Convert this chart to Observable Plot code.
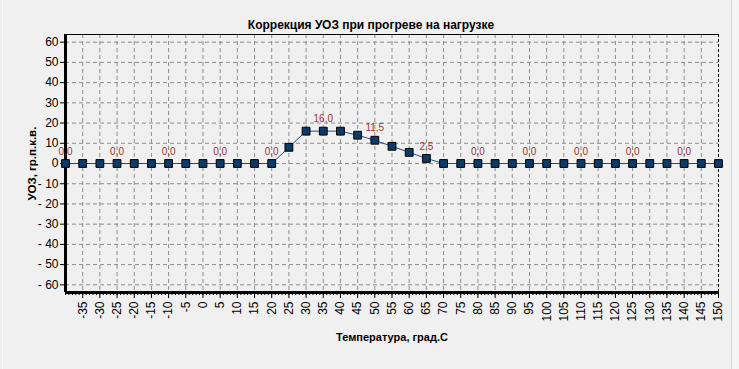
<!DOCTYPE html>
<html>
<head>
<meta charset="utf-8">
<script src="https://cdn.jsdelivr.net/npm/d3@7"></script>
<script src="https://cdn.jsdelivr.net/npm/@observablehq/plot@0.6"></script>
<style>
  html, body { margin: 0; padding: 0; background: #f0f0f0; }
  #wrap { position: relative; width: 739px; height: 369px; overflow: hidden; }
  #edgeL { position: absolute; left: 2px; top: 0; width: 1px; height: 369px; background: #ffffff; }
  #edgeR { position: absolute; left: 731px; top: 0; width: 1px; height: 369px; background: #d4d4d4; }
  #edgeR2 { position: absolute; left: 732px; top: 0; width: 7px; height: 369px; background: #f4f4f4; }
  svg { font-family: "Liberation Sans", Arial, sans-serif; }
</style>
</head>
<body>
<div id="wrap"><div id="edgeL"></div><div id="edgeR"></div><div id="edgeR2"></div></div>
<script>
const title = "Коррекция УОЗ при прогреве на нагрузке";
const xLabel = "Температура, град.С";
const yLabel = "УОЗ, гр.п.к.в.";
const temps = [-40,-35,-30,-25,-20,-15,-10,-5,0,5,10,15,20,25,30,35,40,45,50,55,60,65,70,75,80,85,90,95,100,105,110,115,120,125,130,135,140,145,150];
const uoz   = [0,0,0,0,0,0,0,0,0,0,0,0,0,8,16,16,16,14,11.5,8.5,5.5,2.5,0,0,0,0,0,0,0,0,0,0,0,0,0,0,0,0,0];
const xTicks = [-35,-30,-25,-20,-15,-10,-5,0,5,10,15,20,25,30,35,40,45,50,55,60,65,70,75,80,85,90,95,100,105,110,115,120,125,130,135,140,145,150];
const yTicks = [-60,-50,-40,-30,-20,-10,0,10,20,30,40,50,60];
const xMinor = d3.range(-40, 151, 1);

const data = temps.map((t, i) => ({t, v: uoz[i], i}));
const labeled = data.filter(d => d.i % 3 === 0);
const fmtVal = v => v.toFixed(1).replace(".", ",");
const fmtY = d => d < 0 ? "- " + Math.abs(d) : String(d);

const chart = Plot.plot({
  width: 739,
  height: 369,
  marginLeft: 65,
  marginRight: 21,
  marginTop: 34,
  marginBottom: 77,
  style: { background: "transparent", fontFamily: "Liberation Sans, Arial, sans-serif", overflow: "visible" },
  x: { type: "linear", domain: [-40, 150], axis: null },
  y: { type: "linear", domain: [-63.8, 63.8], axis: null },
  marks: [
    // grid
    Plot.ruleX(xTicks.filter(d => d < 150), { stroke: "#8c8c8c", strokeDasharray: "4,3", strokeWidth: 1 }),
    Plot.ruleY(yTicks, { stroke: "#8c8c8c", strokeDasharray: "4,3", strokeWidth: 1 }),
    // frame: top solid, right dashed
    Plot.ruleY([63.8], { stroke: "black", strokeWidth: 1 }),
    Plot.ruleX([150], { stroke: "black", strokeWidth: 1, strokeDasharray: "3,2" }),
    // y ticks and labels
    Plot.axisY({ ticks: yTicks, tickFormat: fmtY, tickSize: 5, tickPadding: 2, fontSize: 12, label: null, stroke: "black", color: "black" }),
    // x minor ticks
    Plot.axisX({ ticks: xMinor, tickFormat: () => "", tickSize: 3, label: null, stroke: "black" }),
    // x major ticks + rotated labels
    Plot.axisX({ ticks: xTicks, tickFormat: d => String(d), tickSize: 6, tickPadding: 3, tickRotate: -90, fontSize: 12, label: null, stroke: "black", color: "black" }),
    // thick axes
    Plot.ruleX([-40], { stroke: "black", strokeWidth: 3 }),
    Plot.ruleY([-63.8], { stroke: "black", strokeWidth: 3 }),
    // series
    Plot.line(data, { x: "t", y: "v", stroke: "#1f4e79", strokeWidth: 1 }),
    Plot.dot(data, { x: "t", y: "v", symbol: "square", r: 4.4, fill: "#0d3a66", stroke: "#000000", strokeWidth: 1 }),
    Plot.text(labeled, { x: "t", y: "v", text: d => fmtVal(d.v), dy: -12, fill: "#a03232", fontSize: 10 }),
    // titles
    Plot.text([title], { frameAnchor: "top", dy: -14, dx: -21, fontSize: 12, fontWeight: "bold", fill: "black" }),
    Plot.text([xLabel], { frameAnchor: "bottom", dy: 48, dx: 0, fontSize: 11, fontWeight: "bold", fill: "black" }),
    Plot.text([yLabel], { frameAnchor: "left", dx: -33, rotate: -90, textAnchor: "middle", lineAnchor: "middle", fontSize: 11.5, fontWeight: "bold", fill: "black" })
  ]
});
document.getElementById("wrap").appendChild(chart);
chart.style.position = "absolute";
chart.style.left = "0px";
chart.style.top = "0px";
</script>
</body>
</html>
